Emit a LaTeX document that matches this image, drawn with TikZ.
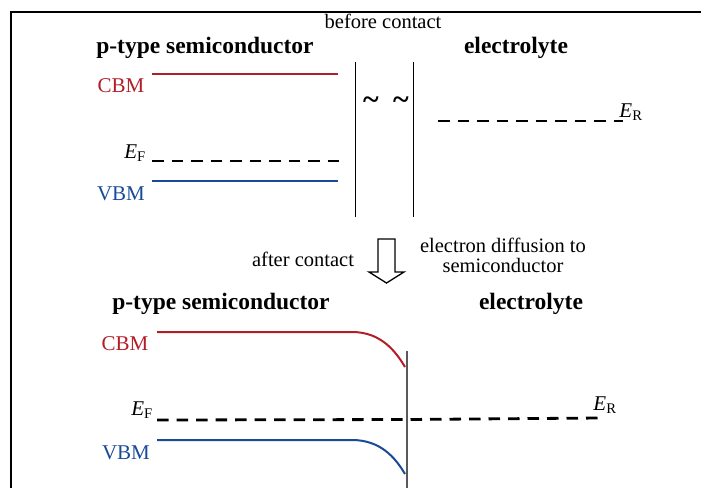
\documentclass[tikz,border=0pt]{standalone}
\usepackage{fontspec}
\setmainfont{Liberation Serif}
\usepackage{tikz}
\usetikzlibrary{positioning}
\definecolor{cbmRed}{RGB}{178,30,40}
\definecolor{vbmBlue}{RGB}{24,74,152}

\tikzset{
  head/.style={font=\fontsize{23.5}{26}\selectfont\bfseries, inner sep=0pt},
  note/.style={font=\fontsize{20.5}{22}\selectfont, inner sep=0pt},
  lvl/.style={font=\fontsize{21}{24}\selectfont, inner sep=0pt},
  wave/.style={font=\fontsize{30}{30}\selectfont\bfseries, inner sep=0pt},
  band/.style={line width=2pt},
  fermi/.style={line width=2.8pt, dash pattern=on 11.5pt off 8pt},
}

\begin{document}
\begin{tikzpicture}[x=1pt,y=-1pt]
  \useasboundingbox (0,0) rectangle (701,488);
  % Frame
  \draw[line width=2pt] (11,488) -- (11,12) -- (701,12);

  % Before contact
  \node[note] (before) at (383,21) {before contact};
  \node[head] (semiTop) at (205,48) {p-type semiconductor};
  \node[head] (elecTop) at (516,48) {electrolyte};
  \draw[band,cbmRed] (152,73.5) -- (338,73.5);
  \node[lvl,text=cbmRed] (cbmTop) at (121,86) {CBM};
  \draw[fermi] (152,161) -- (339,161);
  \node[lvl] (efTop) at (135,153) {\textit{E}\textsubscript{F}};
  \draw[band,vbmBlue] (152,181) -- (338,181);
  \node[lvl,text=vbmBlue] (vbmTop) at (121,194) {VBM};
  % Gap between the two sides
  \draw[line width=0.9pt] (355,62) -- (355,217);
  \draw[line width=0.9pt] (413,62) -- (413,217);
  \node[wave] (tildeA) at (371,103) {\textasciitilde};
  \node[wave] (tildeB) at (401,103) {\textasciitilde};
  \draw[fermi] (438,121) -- (623,121);
  \node[lvl] (erTop) at (631,112) {\textit{E}\textsubscript{R}};

  % After contact
  \node[note] (after) at (303,259) {after contact};
  \draw[line width=1.3pt, fill=white] (378,239) -- (395,239) -- (395,272) -- (404,272)
    -- (386.5,283) -- (369,272) -- (378,272) -- cycle;
  \node[note] (diffA) at (503,245) {electron diffusion to};
  \node[note, below=6pt of diffA] (diffB) {semiconductor};

  \node[head] (semiBot) at (221,304) {p-type semiconductor};
  \node[head] (elecBot) at (531,304) {electrolyte};
  \draw[band,cbmRed] (157,332) -- (352,332) .. controls (380,332) and (395,350) .. (405,367);
  \node[lvl,text=cbmRed] (cbmBot) at (125,344) {CBM};
  \draw[line width=1.2pt, black!65] (407,351) -- (407,488);
  \draw[fermi] (157,420) -- (407,419.5) -- (600,418);
  \node[lvl] (efBot) at (142,410) {\textit{E}\textsubscript{F}};
  \node[lvl] (erBot) at (605,405) {\textit{E}\textsubscript{R}};
  \draw[band,vbmBlue] (157,440) -- (352,440) .. controls (380,440) and (395,457) .. (405,474);
  \node[lvl,text=vbmBlue] (vbmBot) at (126,453) {VBM};
\end{tikzpicture}
\end{document}
